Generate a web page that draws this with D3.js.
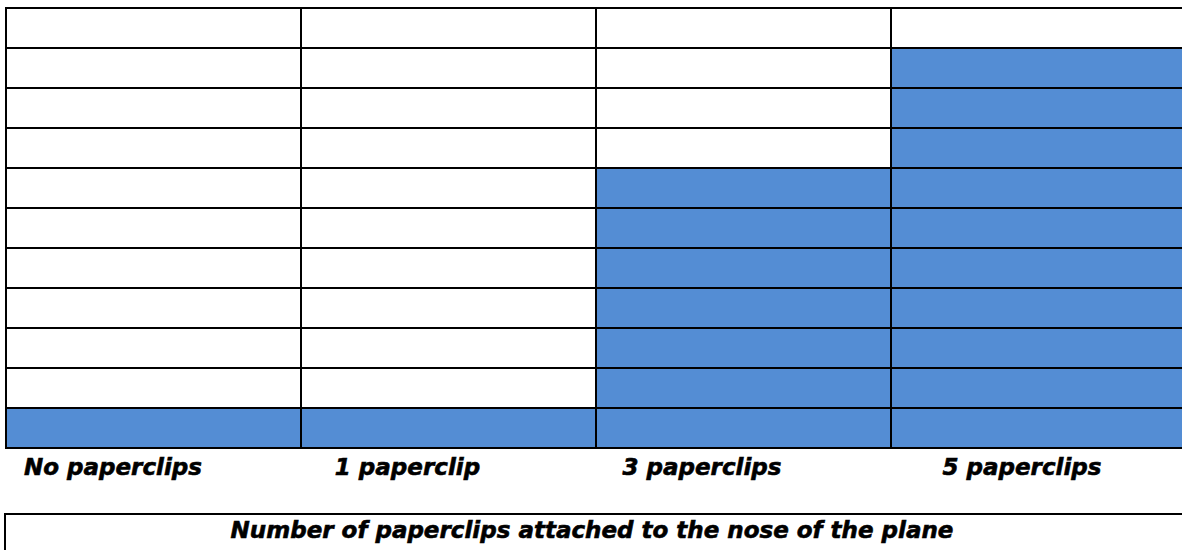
<!DOCTYPE html>
<html>
<head>
<meta charset="utf-8">
<script src="https://cdn.jsdelivr.net/npm/d3@7"></script>
<style>
  html, body { margin: 0; padding: 0; background: #ffffff; }
  svg { display: block; }
  text { font-family: "DejaVu Sans", Verdana, sans-serif; font-weight: bold; font-style: italic; fill: #000; stroke: #000; stroke-width: 0.6px; }
</style>
</head>
<body>
<svg id="chart" width="1182" height="550"></svg>
<script>
// Data
const categories = ["No paperclips", "1 paperclip", "3 paperclips", "5 paperclips"];
const values = [1, 1, 7, 10];
const yMax = 11;
const yTicks = d3.range(0, yMax + 1);
const titleText = "Number of paperclips attached to the nose of the plane";

// Layout
const W = 1182, H = 550;
const gridLeft = 6, colWidth = 295;
const gridTop = 8, gridBottom = 448;
const labelOffsets = [-40.5, -41, -41.5, -16.5];
const barColor = "#548DD4";

const svg = d3.select("#chart");

const x = d3.scaleBand()
  .domain(categories)
  .range([gridLeft, gridLeft + colWidth * categories.length])
  .padding(0);

const y = d3.scaleLinear()
  .domain([0, yMax])
  .range([gridBottom, gridTop]);

// Bars
svg.append("g")
  .selectAll("rect")
  .data(categories.map((c, i) => ({ c, v: values[i] })))
  .join("rect")
  .attr("x", d => x(d.c))
  .attr("y", d => y(d.v))
  .attr("width", x.bandwidth())
  .attr("height", d => y(0) - y(d.v))
  .attr("fill", barColor);

// Horizontal grid lines
svg.append("g")
  .selectAll("line")
  .data(yTicks)
  .join("line")
  .attr("x1", gridLeft - 1)
  .attr("x2", W + 10)
  .attr("y1", d => y(d))
  .attr("y2", d => y(d))
  .attr("stroke", "#000")
  .attr("stroke-width", 2);

// Vertical grid lines
svg.append("g")
  .selectAll("line")
  .data(categories)
  .join("line")
  .attr("x1", d => x(d))
  .attr("x2", d => x(d))
  .attr("y1", y(yMax) - 1)
  .attr("y2", y(0) + 1)
  .attr("stroke", "#000")
  .attr("stroke-width", 2);

// Category labels
svg.append("g")
  .selectAll("text")
  .data(categories)
  .join("text")
  .attr("x", (d, i) => x(d) + x.bandwidth() / 2 + labelOffsets[i])
  .attr("y", 475)
  .attr("text-anchor", "middle")
  .attr("font-size", 23)
  .text(d => d);

// Title box
svg.append("rect")
  .attr("x", 5)
  .attr("y", 514)
  .attr("width", W + 20)
  .attr("height", 60)
  .attr("fill", "none")
  .attr("stroke", "#000")
  .attr("stroke-width", 2);

svg.append("text")
  .attr("x", W / 2 + 1)
  .attr("y", 538)
  .attr("text-anchor", "middle")
  .attr("font-size", 23)
  .text(titleText);
</script>
</body>
</html>
